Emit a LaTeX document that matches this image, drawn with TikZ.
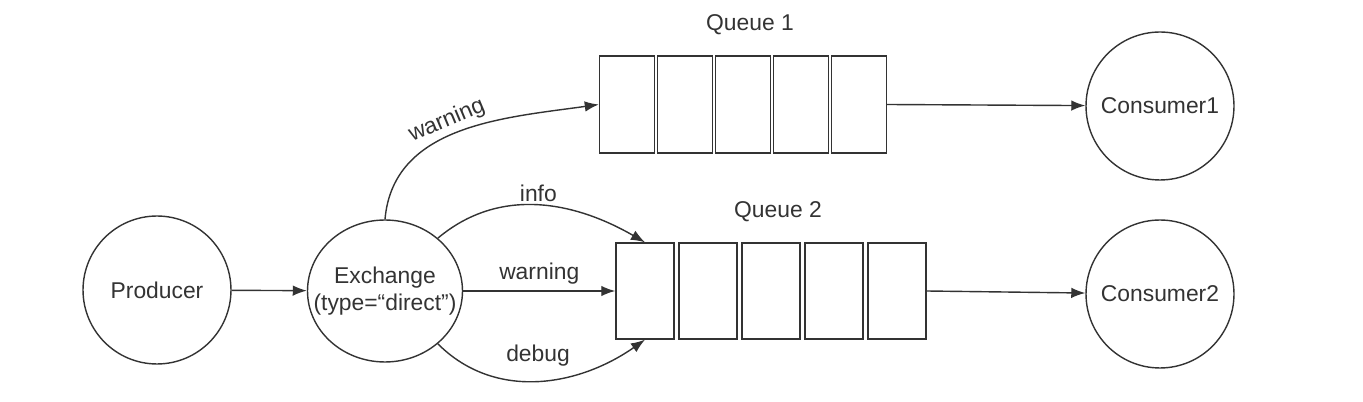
\documentclass[tikz,border=0pt]{standalone}
\usepackage{fontspec}
\setmainfont{Liberation Sans}
\usetikzlibrary{arrows.meta,shapes.geometric}
\definecolor{ink}{HTML}{333333}

\begin{document}
\begin{tikzpicture}[x=0.02cm,y=0.02cm,font=\fontsize{13}{15}\selectfont,
  color=ink, line width=0.8pt,
  hub/.style={circle,draw,minimum size=2.96cm,inner sep=0pt},
  cell/.style={rectangle,draw,inner sep=0pt},
  flow/.style={-{Latex[length=8pt,width=6pt]}}]
\useasboundingbox (0,0) rectangle (1363,402);

% producer, exchange, consumers
\node[hub] (prod) at (157,112) {Producer};
\node[hub,ellipse,minimum width=3.1cm,minimum height=2.84cm] (exch) at (385,111) {};
\node[align=center] (exchtxt) at (exch) {Exchange\\(type=“direct”)};
\node[hub] (cons1) at (1160,296) {Consumer1};
\node[hub] (cons2) at (1160,108) {Consumer2};

% the two queues
\foreach \i in {1,...,5}
  \node[cell,minimum width=1.1cm,minimum height=1.94cm] (qa\i) at ({627+58*(\i-1)},297.5) {};
\foreach \i in {1,...,5}
  \node[cell,minimum width=1.16cm,minimum height=1.92cm] (qb\i) at ({645+63*(\i-1)},111) {};
\node (qatitle) at (750,377) {Queue 1};
\node (qbtitle) at (778,190) {Queue 2};

% bindings
\draw[flow] (prod) -- (exch);
\draw[flow] (exch.north) to[out=85,in=188] node[sloped,above,pos=0.47,inner sep=2pt] (lwarna) {warning} (qa1.west);
\draw[flow] (exch.45) to[out=40,in=150] node[above,inner sep=2pt] (linfo) {info} (qb1.north);
\draw[flow] (exch.east) -- node[above] (lwarnb) {warning} (qb1.west);
\draw[flow] (exch.-45) to[out=-45,in=-145] node[above=4.5pt] (ldebug) {debug} (qb1.south);
\draw[flow] (qa5.east) -- (cons1);
\draw[flow] (qb5.east) -- (cons2);
\end{tikzpicture}
\end{document}
